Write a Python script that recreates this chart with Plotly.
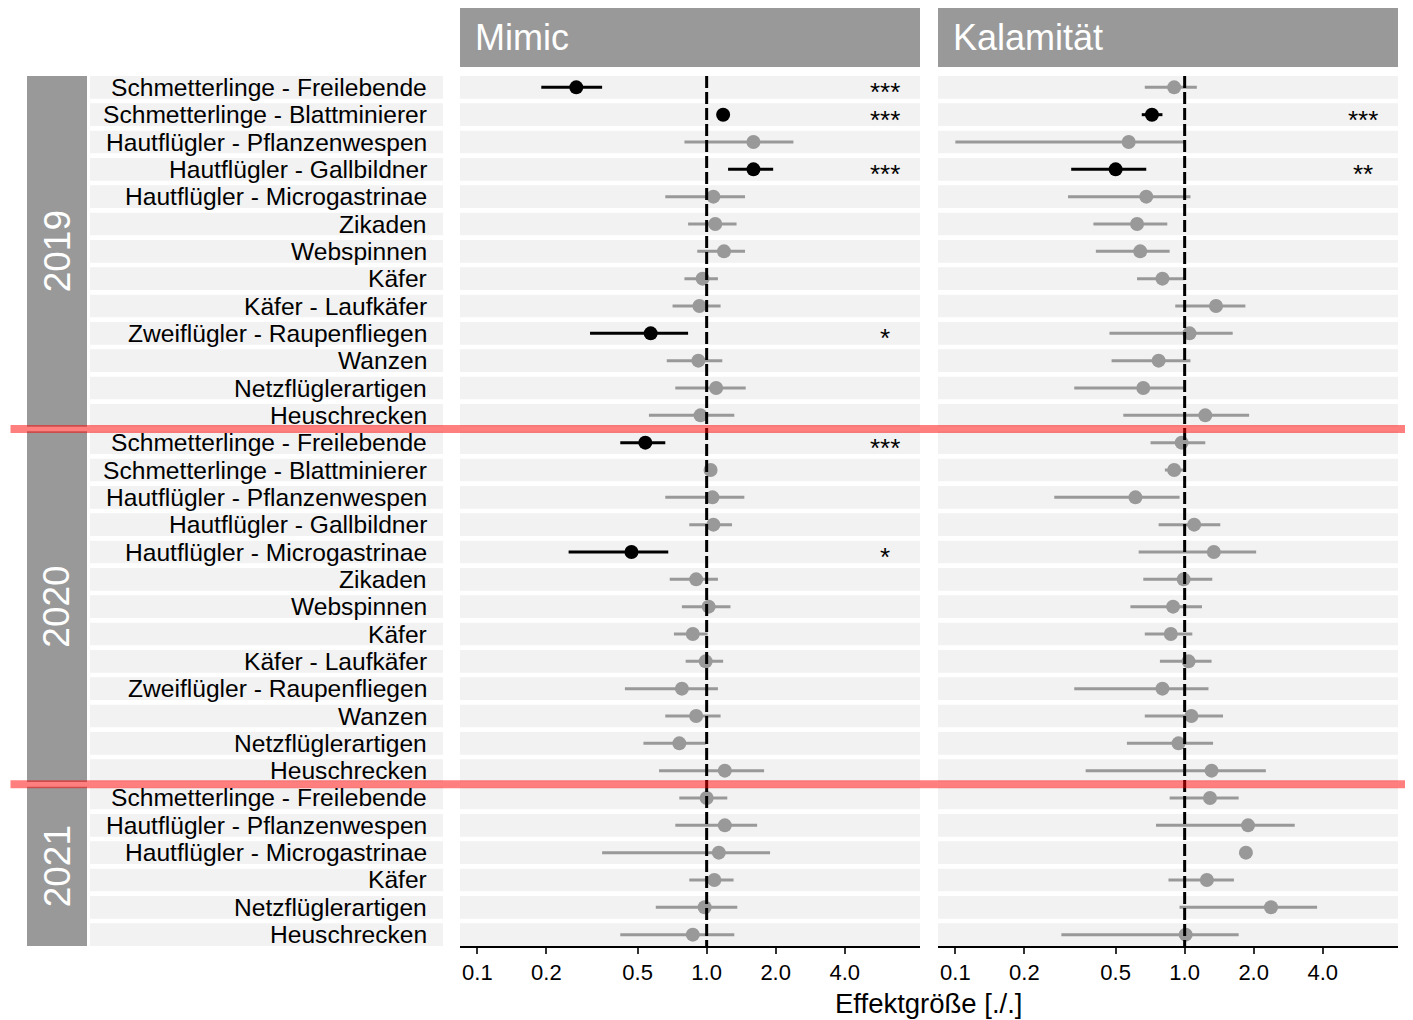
import math
import plotly.graph_objects as go

# ---------------- data ----------------
years = ["2019", "2020", "2021"]
groups_2019 = ["Schmetterlinge - Freilebende", "Schmetterlinge - Blattminierer",
               "Hautflügler - Pflanzenwespen", "Hautflügler - Gallbildner",
               "Hautflügler - Microgastrinae", "Zikaden", "Webspinnen", "Käfer",
               "Käfer - Laufkäfer", "Zweiflügler - Raupenfliegen", "Wanzen",
               "Netzflüglerartigen", "Heuschrecken"]
groups_2020 = list(groups_2019)
groups_2021 = ["Schmetterlinge - Freilebende", "Hautflügler - Pflanzenwespen",
               "Hautflügler - Microgastrinae", "Käfer", "Netzflüglerartigen", "Heuschrecken"]

panels = ["Mimic", "Kalamität"]

# Mimic
mimic_est_2019 = [0.27, 1.18, 1.60, 1.60, 1.07, 1.09, 1.19, 0.96, 0.93, 0.57, 0.92, 1.10, 0.94]
mimic_lo_2019 = [0.19, 1.14, 0.80, 1.24, 0.66, 0.83, 0.91, 0.80, 0.71, 0.31, 0.67, 0.73, 0.56]
mimic_hi_2019 = [0.35, 1.23, 2.39, 1.95, 1.47, 1.35, 1.47, 1.12, 1.15, 0.83, 1.17, 1.48, 1.32]
mimic_sig_2019 = ["***", "***", "", "***", "", "", "", "", "", "*", "", "", ""]

mimic_est_2020 = [0.54, 1.04, 1.06, 1.07, 0.47, 0.90, 1.02, 0.87, 0.99, 0.78, 0.90, 0.76, 1.20]
mimic_lo_2020 = [0.42, 1.01, 0.66, 0.84, 0.25, 0.69, 0.78, 0.72, 0.81, 0.44, 0.66, 0.53, 0.62]
mimic_hi_2020 = [0.66, 1.08, 1.46, 1.29, 0.68, 1.12, 1.27, 1.01, 1.18, 1.12, 1.15, 0.99, 1.78]
mimic_sig_2020 = ["***", "", "", "", "*", "", "", "", "", "", "", "", ""]

mimic_est_2021 = [1.00, 1.20, 1.13, 1.08, 0.98, 0.87]
mimic_lo_2021 = [0.76, 0.73, 0.35, 0.84, 0.60, 0.42]
mimic_hi_2021 = [1.23, 1.66, 1.89, 1.31, 1.36, 1.32]
mimic_sig_2021 = ["", "", "", "", "", ""]

# Kalamität
kal_est_2019 = [0.90, 0.72, 0.57, 0.50, 0.68, 0.62, 0.64, 0.80, 1.37, 1.05, 0.77, 0.66, 1.23]
kal_lo_2019 = [0.67, 0.65, 0.10, 0.32, 0.31, 0.40, 0.41, 0.62, 0.91, 0.47, 0.48, 0.33, 0.54]
kal_hi_2019 = [1.13, 0.80, 1.01, 0.68, 1.06, 0.84, 0.86, 1.00, 1.84, 1.62, 1.06, 0.99, 1.91]
kal_sig_2019 = ["", "***", "", "**", "", "", "", "", "", "", "", "", ""]

kal_est_2020 = [0.97, 0.90, 0.61, 1.10, 1.34, 0.99, 0.89, 0.87, 1.04, 0.80, 1.07, 0.94, 1.31]
kal_lo_2020 = [0.71, 0.82, 0.27, 0.77, 0.63, 0.66, 0.58, 0.67, 0.78, 0.33, 0.67, 0.56, 0.37]
kal_hi_2020 = [1.23, 0.99, 0.95, 1.43, 2.05, 1.32, 1.19, 1.08, 1.31, 1.27, 1.47, 1.33, 2.26]
kal_sig_2020 = ["", "", "", "", "", "", "", "", "", "", "", "", ""]

kal_est_2021 = [1.29, 1.89, 1.85, 1.25, 2.38, 1.01]
kal_lo_2021 = [0.86, 0.75, 1.80, 0.85, 0.95, 0.29]
kal_hi_2021 = [1.72, 3.02, 1.89, 1.64, 3.78, 1.72]
kal_sig_2021 = ["", "", "", "", "", ""]

tick_vals = [0.1, 0.2, 0.5, 1.0, 2.0, 4.0]
tick_text = ["0.1", "0.2", "0.5", "1.0", "2.0", "4.0"]
ref_value = 1.0
star_x = 6.0
x_title = "Effektgröße [./.]"

# ---------------- assemble ----------------
group_lists = [groups_2019, groups_2020, groups_2021]
est = {"Mimic": mimic_est_2019 + mimic_est_2020 + mimic_est_2021,
       "Kalamität": kal_est_2019 + kal_est_2020 + kal_est_2021}
lo = {"Mimic": mimic_lo_2019 + mimic_lo_2020 + mimic_lo_2021,
      "Kalamität": kal_lo_2019 + kal_lo_2020 + kal_lo_2021}
hi = {"Mimic": mimic_hi_2019 + mimic_hi_2020 + mimic_hi_2021,
      "Kalamität": kal_hi_2019 + kal_hi_2020 + kal_hi_2021}
sig = {"Mimic": mimic_sig_2019 + mimic_sig_2020 + mimic_sig_2021,
       "Kalamität": kal_sig_2019 + kal_sig_2020 + kal_sig_2021}

labels = []
for yr, gl in zip(years, group_lists):
    labels.extend(gl)
n = len(labels)
rows = list(range(n))

# ---------------- geometry (page pixels; page body has an 8px margin) ----------------
OFF = 8
FW, FH = 1413 - OFF, 1020 - OFF
PL, PR, PT, PB = 460, 1398, 76, 946          # plot area in page pixels
L, T = PL - OFF, PT - OFF
R, B = FW - (PR - OFF), FH - (PB - OFF)
pw, ph = PR - PL, PB - PT
hh = 0.415  # half band height in row units

def px_x(px):
    return (px - PL) / pw

def px_y(py):
    return (PB - py) / ph

panel_px = [(460, 920), (938, 1398)]
xaxis_ids = ["x", "x2"]
FONT = "Liberation Sans, Arial, sans-serif"
GRAY = "#999999"
BAND = "#F2F2F2"

fig = go.Figure()
shapes = []
annotations = []

for p_idx, pname in enumerate(panels):
    xa = xaxis_ids[p_idx]
    e, l, h, s = est[pname], lo[pname], hi[pname], sig[pname]
    for color, want in [(GRAY, False), ("#000000", True)]:
        lx, ly, mx, my = [], [], [], []
        for i in rows:
            if (s[i] != "") == want:
                lx += [l[i], h[i], None]
                ly += [i, i, None]
                mx.append(e[i])
                my.append(i)
        fig.add_trace(go.Scatter(x=lx, y=ly, mode="lines", xaxis=xa, yaxis="y",
                                 line=dict(color=color, width=3), hoverinfo="skip",
                                 showlegend=False))
        fig.add_trace(go.Scatter(x=mx, y=my, mode="markers", xaxis=xa, yaxis="y",
                                 marker=dict(color=color, size=14, line=dict(width=0)),
                                 showlegend=False))
    # reference line (drawn above points)
    fig.add_trace(go.Scatter(x=[ref_value, ref_value], y=[-hh, n - 1 + hh], mode="lines",
                             xaxis=xa, yaxis="y", hoverinfo="skip", showlegend=False,
                             line=dict(color="black", width=3, dash="12px,4px")))
    # row bands
    x0p, x1p = panel_px[p_idx]
    for i in rows:
        shapes.append(dict(type="rect", xref="paper", yref="y",
                           x0=px_x(x0p), x1=px_x(x1p), y0=i - hh, y1=i + hh,
                           fillcolor=BAND, line=dict(width=0), layer="below"))
    # top strip
    shapes.append(dict(type="rect", xref="paper", yref="paper",
                       x0=px_x(x0p), x1=px_x(x1p), y0=px_y(67), y1=px_y(5.5),
                       fillcolor=GRAY, line=dict(width=0)))
    annotations.append(dict(text=pname, xref="paper", yref="paper",
                            x=px_x(x0p + 13), y=px_y(37), xanchor="left", yanchor="middle",
                            showarrow=False, font=dict(family=FONT, size=36, color="white")))
    # stars
    for i in rows:
        if s[i]:
            annotations.append(dict(text=s[i], xref=xa, yref="y", x=math.log10(star_x), y=i,
                                    xanchor="center", yanchor="middle", yshift=-5,
                                    showarrow=False, font=dict(family=FONT, size=26, color="black")))

# left label strips
for i in rows:
    shapes.append(dict(type="rect", xref="paper", yref="y",
                       x0=px_x(90), x1=px_x(443), y0=i - hh, y1=i + hh,
                       fillcolor=BAND, line=dict(width=0), layer="below"))
    annotations.append(dict(text=labels[i], xref="paper", yref="y", x=px_x(429), y=i,
                            xanchor="right", yanchor="middle", showarrow=False,
                            font=dict(family=FONT, size=24.6, color="black")))

# year strips
start = 0
boundaries = []
for yr, gl in zip(years, group_lists):
    end = start + len(gl) - 1
    shapes.append(dict(type="rect", xref="paper", yref="y",
                       x0=px_x(27), x1=px_x(87), y0=start - hh, y1=end + hh,
                       fillcolor=GRAY, line=dict(width=0), layer="below"))
    annotations.append(dict(text=yr, xref="paper", yref="y", x=px_x(57), y=(start + end) / 2,
                            xanchor="center", yanchor="middle", textangle=-90, showarrow=False,
                            font=dict(family=FONT, size=37, color="white")))
    if end < n - 1:
        boundaries.append(end + 0.5)
    start = end + 1

# red separators
for b in boundaries:
    shapes.append(dict(type="line", xref="paper", yref="y", x0=px_x(10.5), x1=px_x(1413),
                       y0=b, y1=b, line=dict(color="rgba(255,0,0,0.5)", width=8), layer="above"))

# x title
annotations.append(dict(text=x_title, xref="paper", yref="paper", x=px_x(929), y=px_y(1003),
                        xanchor="center", yanchor="middle", showarrow=False,
                        font=dict(family=FONT, size=27.5, color="black")))

xrange = [math.log10(0.084), math.log10(8.52)]
axis_common = dict(type="log", range=xrange, tickvals=tick_vals, ticktext=tick_text,
                   showline=True, linecolor="black", linewidth=2, ticks="outside",
                   ticklen=6, tickwidth=2, tickcolor="#333333", showgrid=False, zeroline=False,
                   tickfont=dict(family=FONT, size=22, color="black"), anchor="y")

fig.update_layout(
    width=FW, height=FH,
    margin=dict(l=L, r=R, t=T, b=B),
    paper_bgcolor="white", plot_bgcolor="white",
    showlegend=False,
    xaxis=dict(domain=[0, px_x(920)], **axis_common),
    xaxis2=dict(domain=[px_x(938), 1.0], **axis_common),
    yaxis=dict(range=[n - 1 + hh, -hh], showticklabels=False, showgrid=False,
               zeroline=False, showline=False, ticks=""),
    shapes=shapes,
    annotations=annotations,
    font=dict(family=FONT),
)

fig.write_html("out.html")
